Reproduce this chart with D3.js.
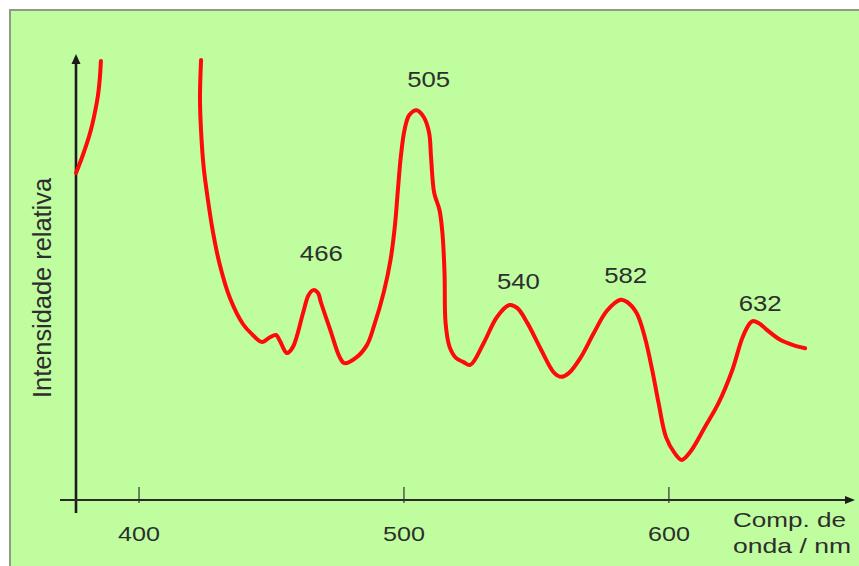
<!DOCTYPE html>
<html>
<head>
<meta charset="utf-8">
<script src="https://cdn.jsdelivr.net/npm/d3@7"></script>
<style>
  body { margin: 0; background: #ffffff; }
  svg { display: block; }
  text { font-family: "Liberation Sans", Arial, Helvetica, sans-serif; fill: #2e2e2e; }
</style>
</head>
<body>
<svg id="chart" width="859" height="566"></svg>
<script>
// Emission spectrum: relative intensity vs wavelength (nm)
// Short-wavelength branch (rises off the top of the plot)
const wavelengthsA = [376.4, 379.0, 381.7, 383.5, 384.7, 385.4, 385.8];
const intensityA   = [74.3, 78.4, 83.4, 88.0, 92.0, 95.9, 99.8];

// Main branch from ~424 nm to ~652 nm
const wavelengthsB = [423.6, 423.2, 423.8, 424.7, 426.2, 428.1, 430.7, 434.5, 439.4, 442.8,
  446.6, 449.6, 451.9, 453.4, 456.0, 458.3, 462.1, 464.2, 466, 467.8,
  468.8, 472.4, 475.9, 477.7, 482.0, 486.2, 489.0, 492.6, 495.1, 496.8,
  497.9, 499.0, 500.4, 502.2, 505, 507.7, 509.7, 510.4, 511.6, 513.6,
  514.7, 515.5, 515.9, 517.4, 519.8, 522.5, 525.2, 530.3, 535.3, 540,
  543.0, 546.8, 552.0, 556.9, 559.5, 562.5, 567.0, 571.9, 576.8, 582,
  584.4, 588.0, 591.1, 593.9, 596.3, 599.1, 602.3, 605.0, 608.2, 613.8,
  618.9, 624.1, 628.0, 630.8, 632, 634.6, 637.3, 642.2, 647.1, 651.6];
const intensityB = [100.0, 90.9, 81.8, 75.0, 68.2, 60.9, 53.4, 45.9, 40.0, 37.7,
  35.9, 37.0, 37.5, 36.1, 33.4, 34.8, 42.5, 46.6, 47.7, 47.0,
  45.0, 38.6, 32.5, 31.1, 32.3, 35.2, 39.8, 47.3, 54.5, 62.5,
  70.5, 78.0, 84.1, 87.5, 88.6, 87.0, 83.4, 78.0, 69.8, 65.9,
  60.7, 51.6, 40.2, 34.8, 32.3, 31.4, 30.7, 35.7, 41.6, 44.3,
  43.6, 40.2, 34.1, 28.9, 28.0, 28.9, 32.5, 38.0, 43.0, 45.5,
  45.0, 42.5, 37.0, 29.5, 22.0, 14.3, 10.7, 9.1, 10.9, 16.6,
  22.0, 29.5, 37.0, 40.2, 40.7, 40.0, 38.6, 36.4, 35.2, 34.5];

// Labelled emission maxima (nm)
const peakWavelengths = [466, 505, 540, 582, 632];

// Axis ticks and titles
const xTickValues = [400, 500, 600];
const yTitle = "Intensidade relativa";
const xTitleLines = ["Comp. de", "onda / nm"];

const svg = d3.select("#chart");

// Panel background
svg.append("rect")
  .attr("x", 10).attr("y", 10)
  .attr("width", 870).attr("height", 580)
  .attr("fill", "#bffd9f")
  .attr("stroke", "#8f9b88")
  .attr("stroke-width", 2);

const x = d3.scaleLinear().domain([376.4, 669.3]).range([76, 852]);
const y = d3.scaleLinear().domain([0, 100]).range([500, 60]);

const ink = "#1c1c1c";
const x0 = x.range()[0];
const yBase = y(0);

// Y axis with arrow
svg.append("line")
  .attr("x1", x0).attr("x2", x0)
  .attr("y1", yBase + 13).attr("y2", 62)
  .attr("stroke", ink).attr("stroke-width", 2.6);
svg.append("path")
  .attr("d", `M${x0},54 L${x0 - 4.5},64 L${x0 + 4.5},64 Z`)
  .attr("fill", ink);

// X axis with arrow
svg.append("line")
  .attr("x1", x0 - 16).attr("x2", 846)
  .attr("y1", yBase).attr("y2", yBase)
  .attr("stroke", "#2a2a2a").attr("stroke-width", 2);
svg.append("path")
  .attr("d", `M855,${yBase} L845,${yBase - 4} L845,${yBase + 4} Z`)
  .attr("fill", ink);

// Ticks and tick labels
const xAxis = d3.axisBottom(x)
  .tickValues(xTickValues)
  .tickSizeInner(-13)
  .tickSizeOuter(0)
  .tickFormat(d3.format("d"));
const gx = svg.append("g")
  .attr("transform", `translate(0,${yBase})`)
  .call(xAxis);
gx.select(".domain").remove();
gx.selectAll(".tick line").attr("stroke", "#333").attr("stroke-width", 1.2).attr("y1", 3);
gx.selectAll(".tick text")
  .attr("dy", null)
  .attr("y", 41)
  .attr("font-size", 21)
  .attr("fill", "#2e2e2e")
  .attr("textLength", 42)
  .attr("lengthAdjust", "spacingAndGlyphs");

// Spectrum curve
const line = d3.line()
  .x(d => x(d[0]))
  .y(d => y(d[1]))
  .curve(d3.curveCatmullRom.alpha(0.5));

const seriesA = wavelengthsA.map((w, i) => [w, intensityA[i]]);
const seriesB = wavelengthsB.map((w, i) => [w, intensityB[i]]);

[seriesA, seriesB].forEach(s => {
  svg.append("path")
    .datum(s)
    .attr("d", line)
    .attr("fill", "none")
    .attr("stroke", "#ff0a0a")
    .attr("stroke-width", 4)
    .attr("stroke-linejoin", "round")
    .attr("stroke-linecap", "round");
});

// Peak labels, placed above each maximum
const labelDx = [8, 12, 9, 5, 7];
const labelDy = [-29, -23, -16, -17, -10];
peakWavelengths.forEach((w, i) => {
  const idx = wavelengthsB.indexOf(w);
  const v = intensityB[idx];
  svg.append("text")
    .attr("x", x(w) + labelDx[i])
    .attr("y", y(v) + labelDy[i])
    .attr("text-anchor", "middle")
    .attr("font-size", 22)
    .attr("textLength", 43)
    .attr("lengthAdjust", "spacingAndGlyphs")
    .text(w);
});

// Y axis title
svg.append("text")
  .attr("transform", "translate(51,288) rotate(-90)")
  .attr("text-anchor", "middle")
  .attr("font-size", 25)
  .attr("textLength", 220)
  .attr("lengthAdjust", "spacingAndGlyphs")
  .text(yTitle);

// X axis title (two lines)
const xTitleLengths = [113, 118];
xTitleLines.forEach((t, i) => {
  svg.append("text")
    .attr("x", 733)
    .attr("y", 527 + i * 26)
    .attr("font-size", 21)
    .attr("textLength", xTitleLengths[i])
    .attr("lengthAdjust", "spacingAndGlyphs")
    .text(t);
});
</script>
</body>
</html>
